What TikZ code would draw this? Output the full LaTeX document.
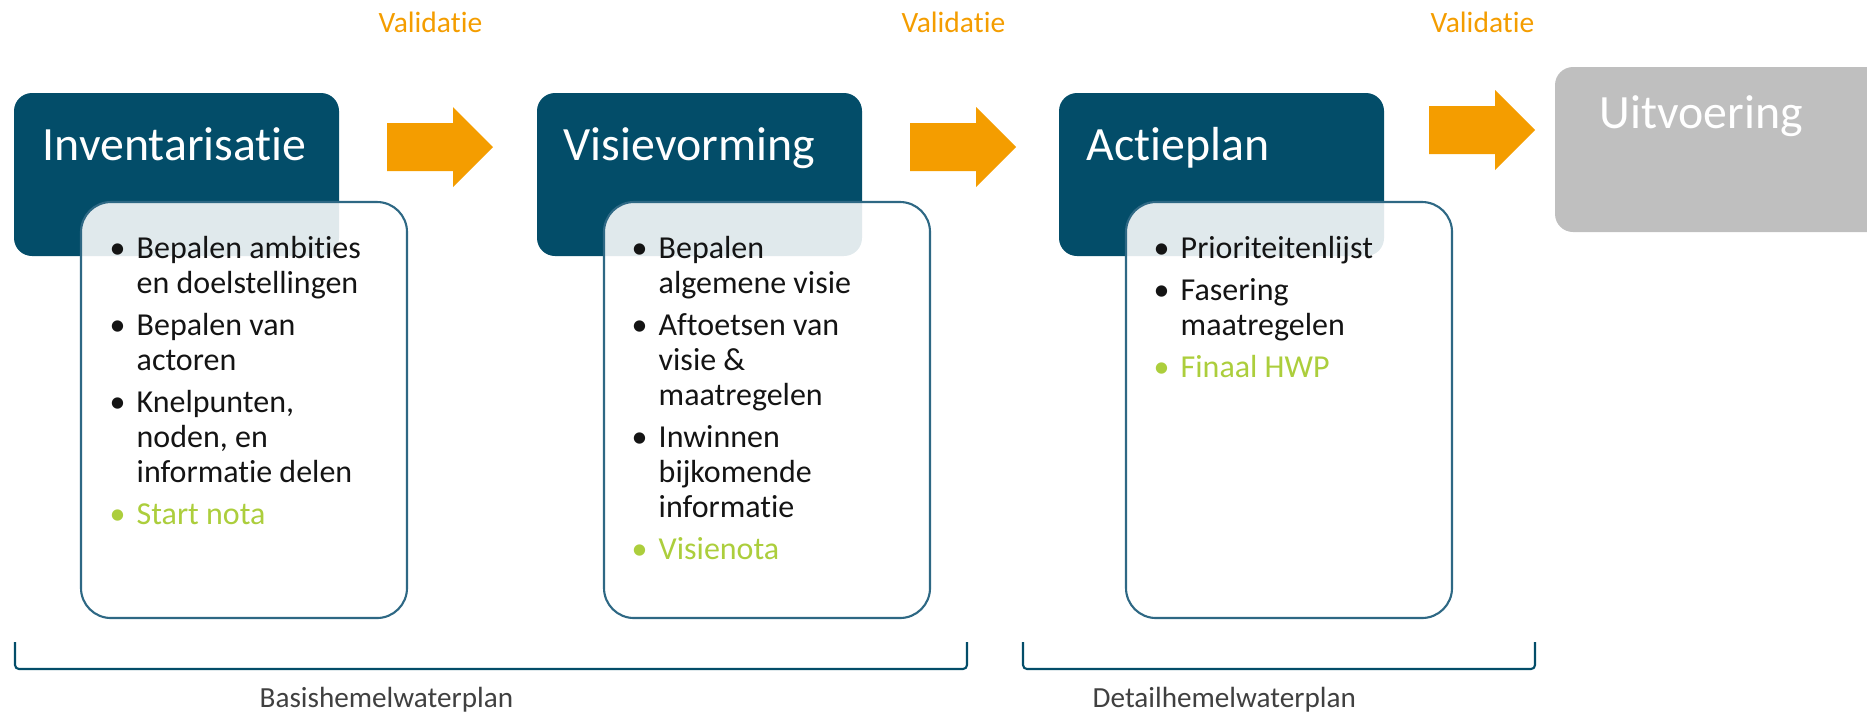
\documentclass[tikz,border=0pt]{standalone}
\usepackage{fontspec}
\setmainfont{Carlito}[Ligatures=NoCommon, RawFeature={-liga;-clig;-calt}]
\usepackage{xcolor}
\usetikzlibrary{positioning}

\definecolor{hwpblue}{RGB}{3,77,105}
\definecolor{hwpedge}{RGB}{46,104,132}
\definecolor{hwporange}{RGB}{244,157,0}
\definecolor{hwpgreen}{RGB}{172,206,60}
\definecolor{hwpgrey}{RGB}{191,191,191}
\definecolor{hwptext}{RGB}{20,20,20}
\definecolor{hwpdark}{RGB}{64,64,64}

\newcommand{\hwpitems}[1]{%
  \begin{minipage}[t]{28mm}\fontsize{9.1}{9.96}\selectfont
  \begin{list}{\textbullet}{\setlength{\leftmargin}{2.1mm}\setlength{\labelwidth}{2.1mm}%
    \setlength{\labelsep}{0pt}\setlength{\topsep}{0pt}\setlength{\partopsep}{0pt}%
    \setlength{\parsep}{0pt}\setlength{\itemsep}{2pt}\renewcommand{\makelabel}[1]{\hspace{-0.6mm}##1\hfill}}
  #1
  \end{list}\end{minipage}}
\newcommand{\noteitem}[1]{\item[\textcolor{hwpgreen}{\textbullet}]\textcolor{hwpgreen}{#1}}

\begin{document}
\begin{tikzpicture}[x=0.1mm, y=-0.1mm,
    stagebox/.style={fill=hwpblue, rounded corners=1.8mm},
    listbox/.style={draw=hwpedge, line width=0.6pt, fill=white, fill opacity=0.88, rounded corners=3mm},
    titletext/.style={anchor=base west, inner sep=0pt, text=white, font=\fontsize{13.6}{16}\selectfont},
    listtext/.style={anchor=base west, inner sep=0pt, text=hwptext},
    valtext/.style={anchor=base west, inner sep=0pt, text=hwporange, font=\fontsize{8.4}{10}\selectfont},
    bracket/.style={draw=hwpblue, line width=0.6pt, rounded corners=0.4mm},
    plantext/.style={anchor=base west, inner sep=0pt, text=hwpdark, font=\fontsize{8.3}{10}\selectfont}]
        \newcommand{\hwpboxw}{325}
        \newcommand{\hwpboxh}{163}
        \newcommand{\hwplistw}{326}
        \newcommand{\hwplisth}{416}
        \newcommand{\hwparrow}[2]{\fill[hwporange] (#1,#2+16) -- ++(66,0) -- ++(0,-16) -- ++(40,40) -- ++(-40,40) -- ++(0,-16) -- ++(-66,0) -- cycle;}
        \clip (0,0) rectangle (1867,714);
        % stage 1
        \fill[stagebox] (14,93) rectangle ++(\hwpboxw,\hwpboxh);
        \node[titletext] (inv) at (42,160) {Inventarisatie};
        \filldraw[listbox] (81,202) rectangle ++(\hwplistw,\hwplisth);
        \node[listtext] (invlist) at (115,258) {\hwpitems{%
            \item Bepalen ambities\\ en doelstellingen
            \item Bepalen van\\ actoren
            \item Knelpunten,\\ noden, en\\ informatie delen
            \noteitem{Start nota}}};
        \hwparrow{387}{107}
        \node[valtext] (val1) at (378,32) {Validatie};
        % stage 2
        \fill[stagebox] (537,93) rectangle ++(\hwpboxw,\hwpboxh);
        \node[titletext] (vis) at (563,160) {Visievorming};
        \filldraw[listbox] (604,202) rectangle ++(\hwplistw,\hwplisth);
        \node[listtext] (vislist) at (637,258) {\hwpitems{%
            \item Bepalen\\ algemene visie
            \item Aftoetsen van\\ visie \&\\ maatregelen
            \item Inwinnen\\ bijkomende\\ informatie
            \noteitem{Visienota}}};
        \hwparrow{910}{107}
        \node[valtext] (val2) at (901,32) {Validatie};
        % stage 3
        \fill[stagebox] (1059,93) rectangle ++(\hwpboxw,\hwpboxh);
        \node[titletext] (act) at (1086,160) {Actieplan};
        \filldraw[listbox] (1126,202) rectangle ++(\hwplistw,\hwplisth);
        \node[listtext] (actlist) at (1159,258) {\hwpitems{%
            \item Prioriteitenlijst
            \item Fasering\\ maatregelen
            \noteitem{Finaal HWP}}};
        \hwparrow{1429}{90}
        \node[valtext] (val3) at (1430,32) {Validatie};
        % uitvoering
        \fill[hwpgrey, rounded corners=1.8mm] (1555,67) rectangle (1950,232);
        \node[titletext] (uit) at (1599,128) {Uitvoering};
        % plan brackets
        \draw[bracket] (15,642) -- (15,669) -- (967,669) -- (967,642);
        \node[plantext] (basis) at (259,707) {Basishemelwaterplan};
        \draw[bracket] (1023,642) -- (1023,669) -- (1535,669) -- (1535,642);
        \node[plantext] (detail) at (1092,707) {Detailhemelwaterplan};
\end{tikzpicture}
\end{document}
